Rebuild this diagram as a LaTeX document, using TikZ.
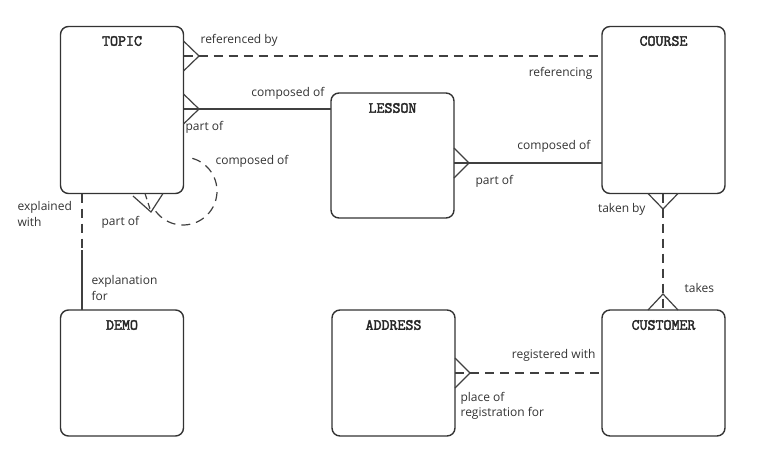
\documentclass[tikz,border=0pt]{standalone}
\usepackage{fontspec}
\setmainfont{Open Sans}
\newfontfamily\titlefont[AutoFakeBold=2.5]{Latin Modern Mono}
\usetikzlibrary{calc}

\begin{document}
\begin{tikzpicture}[x=1pt, y=-1pt, line width=1.2pt, draw=black!75]
	\tikzstyle{box}=[rectangle, rounded corners=8pt, draw=black!80, line width=1.4pt, minimum width=123pt, inner sep=0pt, outer sep=0pt]
	\tikzstyle{title}=[font=\titlefont\bfseries\fontsize{15.5}{17}\selectfont, text=black!85]
	\tikzstyle{annot}=[font=\fontsize{12}{15.5}\selectfont, text=black!80, inner sep=0pt, align=left]
	\tikzstyle{dashline}=[dash pattern=on 9pt off 6pt]

	\useasboundingbox (0,0) rectangle (771,475);

	% Draw entities
	\node[box, minimum height=167pt] (topic) at (122,110) {};
	\node[box, minimum height=167pt] (course) at (663.5,110) {};
	\node[box, minimum height=125pt] (lesson) at (392.5,155.5) {};
	\node[box, minimum height=126pt] (demo) at (122,373) {};
	\node[box, minimum height=126pt] (address) at (393.5,373) {};
	\node[box, minimum height=126pt] (customer) at (663.5,373) {};

	\node[title] (topic-t) at (topic.north |- 0,41) {TOPIC};
	\node[title] (course-t) at (course.north |- 0,41) {COURSE};
	\node[title] (lesson-t) at (lesson.north |- 0,108) {LESSON};
	\node[title] (demo-t) at (demo.north |- 0,325) {DEMO};
	\node[title] (address-t) at (address.north |- 0,325) {ADDRESS};
	\node[title] (customer-t) at (customer.north |- 0,325) {CUSTOMER};

	% Crow's foot tips
	\coordinate (tc) at (199,56);
	\coordinate (tl) at (199,109);
	\coordinate (lc) at (469,163);
	\coordinate (ts) at (151,212);
	\coordinate (tsa) at ($(183,191)+(-74:34)$);
	\coordinate (td) at (82,250);
	\coordinate (cc) at (663,209);
	\coordinate (cu) at (663,294);
	\coordinate (ac) at (470,373);

	% Draw relations
	\draw[dashline] (topic.east |- tc) -- (course.west |- tc);
	\draw (topic.east |- 0,41) -- (tc) -- (topic.east |- 0,71);

	\draw (topic.east |- tl) -- (lesson.west |- tl);
	\draw (topic.east |- 0,94) -- (tl) -- (topic.east |- 0,124);

	\draw (lesson.east |- lc) -- (course.west |- lc);
	\draw (lesson.east |- 0,148) -- (lc) -- (lesson.east |- 0,178);

	\draw (133,196) -- (ts) -- (topic.south -| 163,0);
	\draw[dash pattern=on 6pt off 4pt] (topic.south -| 145,0) -- (ts);
	\draw[dashline] (tsa) arc[start angle=-74, end angle=147, radius=34];

	\draw[dashline] (topic.south -| td) -- (td);
	\draw (td) -- (demo.north -| td);

	\draw[dashline] (course.south -| cc) -- (customer.north -| cc);
	\draw (course.south -| 648,0) -- (cc) -- (course.south -| 678,0);
	\draw (customer.north -| 648,0) -- (cu) -- (customer.north -| 678,0);

	\draw[dashline] (address.east |- ac) -- (customer.west |- ac);
	\draw (address.east |- 0,358) -- (ac) -- (address.east |- 0,388);

	% Draw role names
	\node[annot, anchor=west] (l1) at (200,40) {referenced by};
	\node[annot, anchor=east] (l2) at (593,73) {referencing};
	\node[annot, anchor=east] (l3) at (325,93) {composed of};
	\node[annot, anchor=west] (l4) at (185,127) {part of};
	\node[annot, anchor=east] (l5) at (591,146) {composed of};
	\node[annot, anchor=west] (l6) at (475,181) {part of};
	\node[annot, anchor=west] (l7) at (215,161) {composed of};
	\node[annot, anchor=west] (l8) at (101,222) {part of};
	\node[annot, anchor=west] (l9) at (17,214) {explained\\with};
	\node[annot, anchor=west] (l10) at (91,288) {explanation\\for};
	\node[annot, anchor=east] (l11) at (646,209) {taken by};
	\node[annot, anchor=west] (l12) at (684,288) {takes};
	\node[annot, anchor=east] (l13) at (596,355) {registered with};
	\node[annot, anchor=west] (l14) at (460,406) {place of\\registration for};
\end{tikzpicture}
\end{document}
